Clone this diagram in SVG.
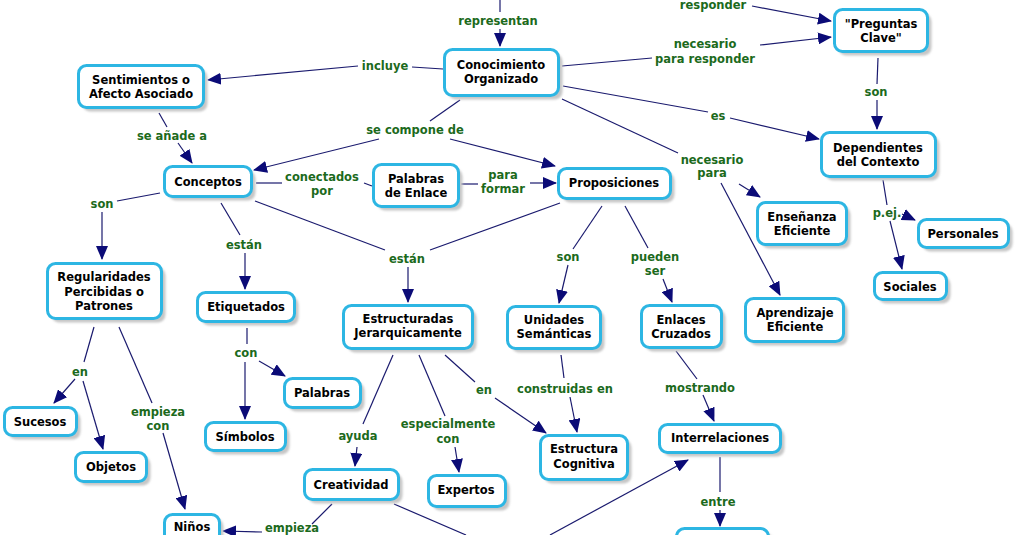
<svg xmlns="http://www.w3.org/2000/svg" width="1018" height="535" viewBox="0 0 1018 535">
<defs>
<marker id="ah" markerUnits="userSpaceOnUse" markerWidth="14" markerHeight="12" refX="13" refY="6" orient="auto" viewBox="0 0 14 12"><path d="M0,0L14,6L0,12z" fill="#0b0b77"/></marker>
<filter id="sh" x="-10%" y="-10%" width="130%" height="140%"><feGaussianBlur stdDeviation="1.2"/></filter>
</defs>
<style>
.n rect.b{fill:#fff;stroke:#2db6e3;stroke-width:3}
.n rect.s{fill:#c6c6c6;filter:url(#sh)}
.n text{font-family:"DejaVu Sans",Verdana,sans-serif;font-weight:bold;font-size:11.5px;fill:#000;text-anchor:middle}
.c line{stroke:#1a1a6e;stroke-width:1.2;fill:none}
.c line.ar{marker-end:url(#ah)}
.c text{font-family:"DejaVu Sans",Verdana,sans-serif;font-weight:bold;font-size:11.5px;fill:#1c6a1c;text-anchor:middle}
</style>
<rect width="1018" height="535" fill="#fff"/>
<g id="connectors" class="c">
<line x1="500" y1="0" x2="500" y2="12"/><line class="ar" x1="500" y1="29" x2="500" y2="46"/>
<line x1="443" y1="69" x2="412" y2="67"/><line class="ar" x1="358" y1="66" x2="208" y2="80"/>
<line x1="562" y1="66" x2="652" y2="58"/><line class="ar" x1="760" y1="45" x2="831" y2="37"/>
<line class="ar" x1="752" y1="6" x2="831" y2="21"/>
<line x1="563" y1="86" x2="708" y2="112"/><line class="ar" x1="730" y1="118" x2="819" y2="139"/>
<line x1="562" y1="99" x2="678" y2="153"/><line class="ar" x1="739" y1="184" x2="760" y2="197"/><line class="ar" x1="721" y1="183" x2="780" y2="295"/>
<line x1="460" y1="100" x2="430" y2="121"/><line class="ar" x1="379" y1="139" x2="254" y2="170"/><line class="ar" x1="450" y1="139" x2="555" y2="166"/>
<line x1="159" y1="113" x2="167" y2="127"/><line class="ar" x1="178" y1="143" x2="192" y2="163"/>
<line x1="878" y1="58" x2="877" y2="84"/><line class="ar" x1="877" y1="100" x2="877" y2="129"/>
<line x1="883" y1="180" x2="887" y2="205"/><line class="ar" x1="902" y1="214" x2="915" y2="220"/><line class="ar" x1="890" y1="221" x2="902" y2="269"/>
<line x1="256" y1="183" x2="282" y2="183"/><line x1="364" y1="183" x2="372" y2="186"/>
<line x1="461" y1="184" x2="478" y2="184"/><line class="ar" x1="530" y1="183" x2="556" y2="183"/>
<line x1="160" y1="193" x2="117" y2="201"/><line class="ar" x1="102" y1="212" x2="102" y2="259"/>
<line x1="221" y1="203" x2="240" y2="235"/><line class="ar" x1="245" y1="253" x2="245" y2="289"/>
<line x1="255" y1="201" x2="385" y2="250"/><line x1="560" y1="203" x2="430" y2="250"/><line class="ar" x1="408" y1="267" x2="408" y2="302"/>
<line x1="602" y1="206" x2="573" y2="249"/><line class="ar" x1="568" y1="265" x2="559" y2="303"/>
<line x1="625" y1="206" x2="648" y2="248"/><line class="ar" x1="663" y1="279" x2="672" y2="302"/>
<line x1="94" y1="327" x2="84" y2="362"/><line class="ar" x1="75" y1="379" x2="54" y2="403"/><line class="ar" x1="83" y1="381" x2="103" y2="449"/>
<line x1="119" y1="327" x2="152" y2="403"/><line class="ar" x1="163" y1="433" x2="185" y2="509"/>
<line x1="247" y1="328" x2="247" y2="344"/><line class="ar" x1="259" y1="361" x2="285" y2="376"/><line class="ar" x1="245" y1="362" x2="245" y2="419"/>
<line x1="393" y1="355" x2="363" y2="424"/><line class="ar" x1="357" y1="447" x2="355" y2="466"/>
<line x1="419" y1="355" x2="445" y2="416"/><line class="ar" x1="455" y1="447" x2="459" y2="472"/>
<line x1="445" y1="355" x2="475" y2="382"/><line class="ar" x1="495" y1="398" x2="546" y2="433"/>
<line x1="561" y1="355" x2="564" y2="378"/><line class="ar" x1="570" y1="397" x2="577" y2="432"/>
<line x1="676" y1="351" x2="697" y2="379"/><line class="ar" x1="703" y1="395" x2="714" y2="421"/>
<line x1="720" y1="457" x2="720" y2="492"/><line class="ar" x1="720" y1="510" x2="720" y2="526"/>
<line x1="394" y1="504" x2="466" y2="535"/>
<line class="ar" x1="550" y1="535" x2="688" y2="460"/>
<line x1="332" y1="504" x2="312" y2="524"/><line class="ar" x1="262" y1="532" x2="223" y2="531"/>
<text x="498" y="25">representan</text>
<text x="385" y="70">incluye</text>
<text x="705" y="48">necesario</text><text x="705" y="63">para responder</text>
<text x="713" y="9">responder</text>
<text x="718" y="120">es</text>
<text x="712" y="164">necesario</text><text x="712" y="177">para</text>
<text x="415" y="134">se compone de</text>
<text x="172" y="140">se añade a</text>
<text x="876" y="96">son</text>
<text x="887" y="217">p.ej.</text>
<text x="322" y="181">conectados</text><text x="322" y="195">por</text>
<text x="503" y="179">para</text><text x="503" y="193">formar</text>
<text x="102" y="208">son</text>
<text x="244" y="249">están</text>
<text x="407" y="263">están</text>
<text x="568" y="261">son</text>
<text x="655" y="261">pueden</text><text x="655" y="275">ser</text>
<text x="80" y="376">en</text>
<text x="158" y="416">empieza</text><text x="158" y="430">con</text>
<text x="246" y="357">con</text>
<text x="358" y="440">ayuda</text>
<text x="448" y="428">especialmente</text><text x="448" y="443">con</text>
<text x="484" y="394">en</text>
<text x="565" y="393">construidas en</text>
<text x="700" y="392">mostrando</text>
<text x="718" y="506">entre</text>
<text x="292" y="532">empieza</text>
</g>
<g id="n-sentimientos" class="n"><rect class="s" x="82.5" y="69.5" width="125" height="42" rx="8"/><rect class="b" x="78.5" y="65.5" width="125" height="42" rx="8"/><text x="141" y="84">Sentimientos o</text><text x="141" y="98">Afecto Asociado</text></g>
<g id="n-conocimiento" class="n"><rect class="s" x="448.5" y="53.5" width="114" height="46" rx="8"/><rect class="b" x="444.5" y="49.5" width="114" height="46" rx="8"/><text x="501" y="69">Conocimiento</text><text x="501" y="83">Organizado</text></g>
<g id="n-preguntas" class="n"><rect class="s" x="838.5" y="13.5" width="93" height="42" rx="8"/><rect class="b" x="834.5" y="9.5" width="93" height="42" rx="8"/><text x="881" y="28">"Preguntas</text><text x="881" y="42">Clave"</text></g>
<g id="n-dependientes" class="n"><rect class="s" x="825.5" y="136.5" width="114" height="44" rx="8"/><rect class="b" x="821.5" y="132.5" width="114" height="44" rx="8"/><text x="878" y="152">Dependientes</text><text x="878" y="166">del Contexto</text></g>
<g id="n-conceptos" class="n"><rect class="s" x="168.5" y="170.5" width="87" height="30" rx="8"/><rect class="b" x="164.5" y="166.5" width="87" height="30" rx="8"/><text x="208" y="186">Conceptos</text></g>
<g id="n-palabras-enlace" class="n"><rect class="s" x="377.5" y="168.5" width="85" height="42" rx="8"/><rect class="b" x="373.5" y="164.5" width="85" height="42" rx="8"/><text x="416" y="183">Palabras</text><text x="416" y="197">de Enlace</text></g>
<g id="n-proposiciones" class="n"><rect class="s" x="562.5" y="172.5" width="112" height="30" rx="8"/><rect class="b" x="558.5" y="168.5" width="112" height="30" rx="8"/><text x="614" y="187">Proposiciones</text></g>
<g id="n-ensenanza" class="n"><rect class="s" x="761.5" y="206.5" width="89" height="42" rx="8"/><rect class="b" x="757.5" y="202.5" width="89" height="42" rx="8"/><text x="802" y="221">Enseñanza</text><text x="802" y="235">Eficiente</text></g>
<g id="n-personales" class="n"><rect class="s" x="922.5" y="223.5" width="90" height="28" rx="8"/><rect class="b" x="918.5" y="219.5" width="90" height="28" rx="8"/><text x="963" y="238">Personales</text></g>
<g id="n-sociales" class="n"><rect class="s" x="878.5" y="276.5" width="72" height="27" rx="8"/><rect class="b" x="874.5" y="272.5" width="72" height="27" rx="8"/><text x="910" y="291">Sociales</text></g>
<g id="n-aprendizaje" class="n"><rect class="s" x="749.5" y="302.5" width="98" height="43" rx="8"/><rect class="b" x="745.5" y="298.5" width="98" height="43" rx="8"/><text x="795" y="317">Aprendizaje</text><text x="795" y="331">Eficiente</text></g>
<g id="n-regularidades" class="n"><rect class="s" x="51.5" y="267.5" width="114" height="55" rx="8"/><rect class="b" x="47.5" y="263.5" width="114" height="55" rx="8"/><text x="104" y="281">Regularidades</text><text x="104" y="296">Percibidas o</text><text x="104" y="310">Patrones</text></g>
<g id="n-etiquetados" class="n"><rect class="s" x="201.5" y="296.5" width="97" height="29" rx="8"/><rect class="b" x="197.5" y="292.5" width="97" height="29" rx="8"/><text x="246" y="311">Etiquetados</text></g>
<g id="n-estructuradas" class="n"><rect class="s" x="347.5" y="309.5" width="129" height="43" rx="8"/><rect class="b" x="343.5" y="305.5" width="129" height="43" rx="8"/><text x="408" y="323">Estructuradas</text><text x="408" y="337">Jerarquicamente</text></g>
<g id="n-unidades" class="n"><rect class="s" x="511.5" y="310.5" width="93" height="42" rx="8"/><rect class="b" x="507.5" y="306.5" width="93" height="42" rx="8"/><text x="554" y="324">Unidades</text><text x="554" y="338">Semánticas</text></g>
<g id="n-enlaces" class="n"><rect class="s" x="645.5" y="309.5" width="80" height="42" rx="8"/><rect class="b" x="641.5" y="305.5" width="80" height="42" rx="8"/><text x="681" y="324">Enlaces</text><text x="681" y="338">Cruzados</text></g>
<g id="n-sucesos" class="n"><rect class="s" x="8.5" y="411.5" width="72" height="28" rx="8"/><rect class="b" x="4.5" y="407.5" width="72" height="28" rx="8"/><text x="40" y="426">Sucesos</text></g>
<g id="n-objetos" class="n"><rect class="s" x="79.5" y="456.5" width="71" height="29" rx="8"/><rect class="b" x="75.5" y="452.5" width="71" height="29" rx="8"/><text x="111" y="471">Objetos</text></g>
<g id="n-palabras" class="n"><rect class="s" x="288.5" y="382.5" width="76" height="29" rx="8"/><rect class="b" x="284.5" y="378.5" width="76" height="29" rx="8"/><text x="322" y="397">Palabras</text></g>
<g id="n-simbolos" class="n"><rect class="s" x="209.5" y="426.5" width="80" height="28" rx="8"/><rect class="b" x="205.5" y="422.5" width="80" height="28" rx="8"/><text x="245" y="441">Símbolos</text></g>
<g id="n-creatividad" class="n"><rect class="s" x="308.5" y="473.5" width="94" height="30" rx="8"/><rect class="b" x="304.5" y="469.5" width="94" height="30" rx="8"/><text x="351" y="489">Creatividad</text></g>
<g id="n-expertos" class="n"><rect class="s" x="432.5" y="479.5" width="77" height="31" rx="8"/><rect class="b" x="428.5" y="475.5" width="77" height="31" rx="8"/><text x="466" y="494">Expertos</text></g>
<g id="n-estructura" class="n"><rect class="s" x="544.5" y="439.5" width="87" height="44" rx="8"/><rect class="b" x="540.5" y="435.5" width="87" height="44" rx="8"/><text x="584" y="453">Estructura</text><text x="584" y="468">Cognitiva</text></g>
<g id="n-interrelaciones" class="n"><rect class="s" x="663.5" y="428.5" width="121" height="28" rx="8"/><rect class="b" x="659.5" y="424.5" width="121" height="28" rx="8"/><text x="720" y="442">Interrelaciones</text></g>
<g id="n-ninos" class="n"><rect class="s" x="168.5" y="518.5" width="55" height="29" rx="8"/><rect class="b" x="164.5" y="514.5" width="55" height="29" rx="8"/><text x="192" y="531">Niños</text></g>
<g id="n-bottom" class="n"><rect class="s" x="680.5" y="532.5" width="92" height="29" rx="8"/><rect class="b" x="676.5" y="528.5" width="92" height="29" rx="8"/></g>
</svg>
